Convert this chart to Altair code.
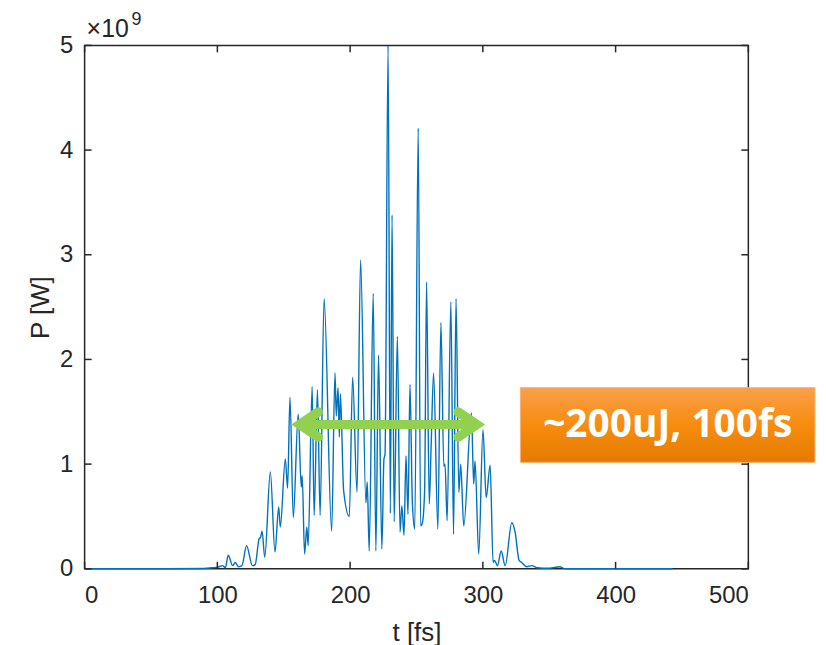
import altair as alt
import pandas as pd

# ---- data (t in fs, P in units of 1e9 W) ----
t_fs = [
    0, 60, 90, 96, 100, 104, 106, 108.2, 111.5, 113.4,
    116, 118.5, 122, 126.4, 128.5, 131.4, 132.5, 133.7, 135.7, 139.9,
    143.4, 146.2, 147.4, 151.2, 152.9, 154.7, 157.2, 160.9, 163.2, 163.9,
    165.7, 167.4, 168.4, 171.4, 172.9, 175.4, 177.4, 180.4, 186.1, 188.6,
    189.6, 190.9, 191.9, 192.7, 195.1, 199.4, 201.9, 205.2, 207.9, 211.9,
    212.9, 214.4, 217.4, 219.4, 221.4, 223.9, 225.5, 226.3, 228.6, 230.3,
    231.6, 233.2, 235.6, 237.6, 239.0, 240.6, 242.1, 243.6, 245.1, 246.9,
    248.7, 251.3, 253.1, 254.3, 256.1, 257.6, 259.6, 261.1, 262.9, 266.1,
    268.4, 270.6, 271.5, 273.1, 275.9, 277.9, 279.8, 281.9, 283.3, 285.6,
    291.4, 293.1, 294.1, 296.9, 300.1, 302.5, 305.5, 307.7, 308.8, 311.0,
    313.8, 316.8, 321.8, 324.3, 327.3, 329.3, 333.0, 337.0, 340.8, 350,
    358, 362, 443,
]
p_gw = [
    0, 0, 0.003, 0.01, 0.015, 0.03, 0.01, 0.13, 0.03, 0.06,
    0.02, 0.03, 0.22, 0.03, 0.04, 0.285, 0.30, 0.36, 0.11, 0.925,
    0.16, 0.59, 0.40, 1.05, 0.77, 1.64, 0.49, 1.48, 0.78, 0.89,
    0.14, 0.40, 0.22, 1.74, 0.51, 1.71, 0.51, 2.58, 0.36, 1.87,
    1.46, 1.73, 1.26, 1.67, 0.75, 0.50, 1.83, 0.73, 2.95, 0.63,
    0.83, 0.17, 2.63, 0.17, 2.04, 0.19, 1.05, 1.09, 5.0, 0.53,
    3.38, 0.45, 2.22, 0.35, 0.60, 0.32, 1.08, 0.52, 1.76, 0.63,
    0.38, 4.21, 0.41, 0.43, 0.73, 2.74, 0.62, 1.20, 1.87, 0.38,
    2.35, 0.98, 1.00, 0.46, 2.55, 0.33, 2.58, 0.73, 1.00, 0.41,
    1.49, 0.81, 1.03, 0.14, 1.33, 0.68, 0.99, 0.06, 0.08, 0.03,
    0.17, 0.03, 0.44, 0.35, 0.08, 0.06, 0.02, 0.03, 0.01, 0.005,
    0.02, 0.0, 0,
]
assert len(t_fs) == len(p_gw)

x_ticks = [0, 100, 200, 300, 400, 500]
y_ticks = [0, 1, 2, 3, 4, 5]

# annotation (in data units)
arrow_t = [162.0, 295.4]     # vertices of the two arrow heads
arrow_p = 1.378
head_dt = 14
head_dp = 0.12
box_t = [328.3, 550.2]
box_p = [1.017, 1.73]
box_label = "~200uJ, 100fs"

W, H = 667, 526
INK = "#262626"
GREEN = "#92D050"

xs = alt.Scale(domain=[0, 500], nice=False, zero=False)
ys = alt.Scale(domain=[0, 5], nice=False, zero=False)
xax = alt.Axis(values=x_ticks, title="t [fs]")
yax = alt.Axis(values=y_ticks, title="P [W]")


def X(field):
    return alt.X(field, scale=xs, axis=xax)


def Y(field):
    return alt.Y(field, scale=ys, axis=yax)


df = pd.DataFrame({"t": t_fs, "P": p_gw})

line = alt.Chart(df).mark_line(
    color="#0072BD", strokeWidth=1.4, interpolate="monotone"
).encode(x=X("t:Q"), y=Y("P:Q"))

xt = pd.DataFrame({"t": x_ticks})
yt = pd.DataFrame({"P": y_ticks})
tick_style = dict(color=INK, strokeWidth=1.5)
ticks_bottom = alt.Chart(xt).mark_rule(**tick_style).encode(
    x=X("t:Q"), y=alt.value(H), y2=alt.value(H - 7))
ticks_top = alt.Chart(xt).mark_rule(**tick_style).encode(
    x=X("t:Q"), y=alt.value(0), y2=alt.value(7))
ticks_left = alt.Chart(yt).mark_rule(**tick_style).encode(
    y=Y("P:Q"), x=alt.value(0), x2=alt.value(7))
ticks_right = alt.Chart(yt).mark_rule(**tick_style).encode(
    y=Y("P:Q"), x=alt.value(W), x2=alt.value(W - 7))

shaft = alt.Chart(pd.DataFrame({"t": [arrow_t[0]], "t2": [arrow_t[1]], "P": [arrow_p]})).mark_rule(
    color=GREEN, strokeWidth=9
).encode(x=X("t:Q"), x2="t2:Q", y=Y("P:Q"))

heads = pd.DataFrame({
    "t": [arrow_t[0] + head_dt, arrow_t[0], arrow_t[0] + head_dt,
          arrow_t[1] - head_dt, arrow_t[1], arrow_t[1] - head_dt],
    "P": [arrow_p + head_dp, arrow_p, arrow_p - head_dp] * 2,
    "g": ["L"] * 3 + ["R"] * 3,
    "o": [0, 1, 2] * 2,
})
head_marks = alt.Chart(heads).mark_line(
    color=GREEN, strokeWidth=9.5, strokeCap="round", strokeJoin="miter", strokeMiterLimit=10
).encode(x=X("t:Q"), y=Y("P:Q"), detail="g:N", order="o:Q")

box_df = pd.DataFrame({"t": [box_t[0]], "t2": [box_t[1]], "P": [box_p[0]], "P2": [box_p[1]],
                       "tc": [(box_t[0] + box_t[1]) / 2], "pc": [(box_p[0] + box_p[1]) / 2],
                       "label": [box_label]})
box = alt.Chart(box_df).mark_rect(
    fill=alt.Gradient(
        gradient="linear", x1=0, y1=0, x2=0, y2=1,
        stops=[alt.GradientStop(color="#F9A04A", offset=0),
               alt.GradientStop(color="#F78C0E", offset=0.5),
               alt.GradientStop(color="#E47B00", offset=1)],
    ),
    stroke="#F6B06C", strokeWidth=1,
).encode(x=X("t:Q"), x2="t2:Q", y=Y("P:Q"), y2="P2:Q")
box_text = alt.Chart(box_df).mark_text(
    font="Open Sans", fontWeight="bold", fontSize=39, color="white",
    align="center", baseline="middle",
).encode(x=X("tc:Q"), y=Y("pc:Q"), text="label:N")

one = pd.DataFrame({"a": [0]})
exp_base = alt.Chart(one).mark_text(
    text="×10", font="Liberation Sans", fontSize=25, color=INK, align="left", baseline="alphabetic"
).encode(x=alt.value(2), y=alt.value(-8))
exp_sup = alt.Chart(one).mark_text(
    text="9", font="Liberation Sans", fontSize=18, color=INK, align="left", baseline="alphabetic"
).encode(x=alt.value(47), y=alt.value(-20))

chart = alt.layer(
    line, shaft, head_marks, box, box_text,
    ticks_bottom, ticks_top, ticks_left, ticks_right,
    exp_base, exp_sup,
).properties(
    width=W, height=H,
    autosize=alt.AutoSizeParams(type="none"),
    padding={"left": 77, "top": 36, "right": 70, "bottom": 75},
    background="white",
).configure_view(
    stroke=INK, strokeWidth=1.5,
).configure_axis(
    domain=False, ticks=False, grid=False,
    labelFont="Liberation Sans", labelFontSize=24, labelColor=INK,
    titleFont="Liberation Sans", titleFontSize=26, titleFontWeight="normal", titleColor=INK,
).configure_axisX(
    labelPadding=15, titlePadding=12,
).configure_axisY(
    labelPadding=12, titlePadding=6,
)

chart.save("out.html", embed_options={"renderer": "svg", "actions": False})
